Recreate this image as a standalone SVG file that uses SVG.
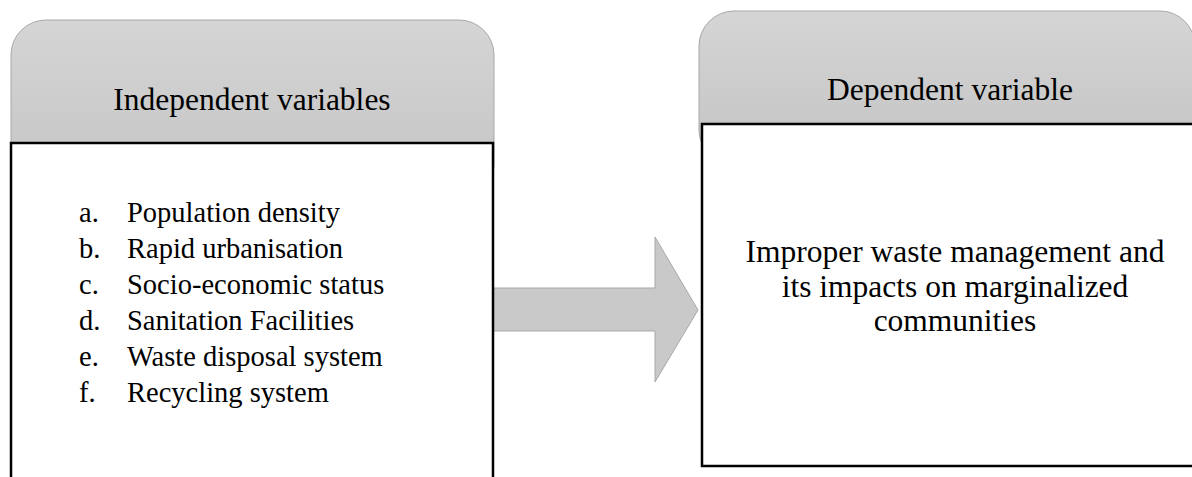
<svg xmlns="http://www.w3.org/2000/svg" width="1192" height="477" viewBox="0 0 1192 477">
<defs>
<linearGradient id="hdr" x1="0" y1="0" x2="0" y2="1">
<stop offset="0" stop-color="#d5d5d5"/>
<stop offset="1" stop-color="#c3c3c3"/>
</linearGradient>
<style>
.hdr{fill:url(#hdr);stroke:#a8a8a8;stroke-width:1}
.box{fill:#ffffff;stroke:#000000;stroke-width:2.5}
.t{font-family:"Liberation Serif","Times New Roman",serif;fill:#000000}
.h{font-size:31.5px;text-anchor:middle}
.l{font-size:28.5px}
.m{font-size:31.5px;text-anchor:middle}
.arrow{fill:#c9c9c9;stroke:#a8a8a8;stroke-width:1}
</style>
</defs>
<rect width="1192" height="477" fill="#ffffff"/>
<g id="connectors">
<path class="arrow" d="M480,288 L655,288 L655,237 L698,310 L655,382 L655,331 L480,331 Z"/>
</g>
<g id="independent">
<rect class="hdr" x="11" y="20" width="483" height="180" rx="35" ry="35"/>
<rect class="box" x="11" y="143" width="482" height="345"/>
<text class="t h" x="252" y="110">Independent variables</text>
<text class="t l" x="79" y="222">a.</text><text class="t l" x="127" y="222">Population density</text>
<text class="t l" x="79" y="258">b.</text><text class="t l" x="127" y="258">Rapid urbanisation</text>
<text class="t l" x="79" y="294">c.</text><text class="t l" x="127" y="294">Socio-economic status</text>
<text class="t l" x="79" y="330">d.</text><text class="t l" x="127" y="330">Sanitation Facilities</text>
<text class="t l" x="79" y="366">e.</text><text class="t l" x="127" y="366">Waste disposal system</text>
<text class="t l" x="79" y="402">f.</text><text class="t l" x="127" y="402">Recycling system</text>
</g>
<g id="dependent">
<rect class="hdr" x="699" y="11" width="496" height="154" rx="35" ry="35"/>
<rect class="box" x="702" y="124" width="500" height="342"/>
<text class="t h" x="950" y="100">Dependent variable</text>
<text class="t m" x="955" y="262">Improper waste management and</text>
<text class="t m" x="955" y="297">its impacts on marginalized</text>
<text class="t m" x="955" y="331">communities</text>
</g>
</svg>
